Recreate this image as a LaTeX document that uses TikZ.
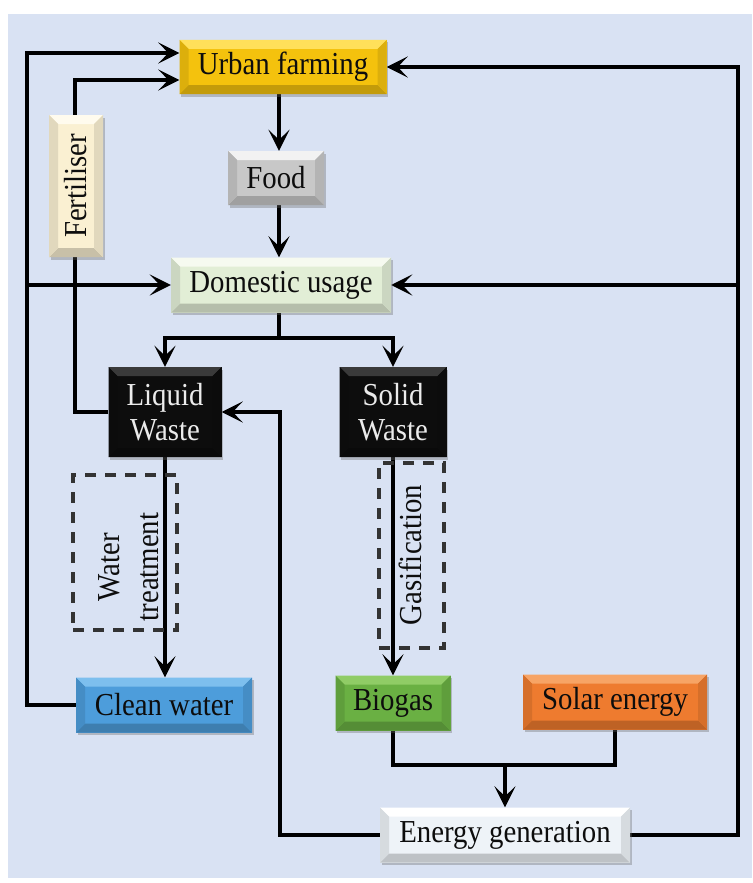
\documentclass[tikz,border=0pt]{standalone}
\usepackage{fontspec}
\usepackage{graphicx}
\setmainfont[FakeStretch=0.9]{Liberation Serif}
\usetikzlibrary{arrows.meta,shadows,calc}
\pgfdeclarelayer{back}
\pgfdeclarelayer{lines}
\pgfsetlayers{back,lines,main}
\definecolor{bgc}{HTML}{D9E2F3}
\definecolor{ufC}{HTML}{F4C20D}
\definecolor{ufT}{HTML}{FFE05A}
\definecolor{foodC}{HTML}{C8C8C8}
\definecolor{foodT}{HTML}{F2F2F2}
\definecolor{domC}{HTML}{E2EED6}
\definecolor{domT}{HTML}{F6FAF0}
\definecolor{fertC}{HTML}{FAF0D2}
\definecolor{fertT}{HTML}{FFFBEE}
\definecolor{blkC}{HTML}{0D0D0D}
\definecolor{blkT}{HTML}{3A3A3A}
\definecolor{cwC}{HTML}{4D9DDB}
\definecolor{cwT}{HTML}{7DBFEE}
\definecolor{bioC}{HTML}{6AB043}
\definecolor{bioT}{HTML}{90CC66}
\definecolor{solC}{HTML}{EE7B2F}
\definecolor{solT}{HTML}{F7A465}
\definecolor{egC}{HTML}{EEF3F8}
\definecolor{egT}{HTML}{FFFFFF}
\def\bvsz{9pt}
\tikzset{
  bev/.style 2 args={fill=#1, inner sep=0pt, text=black!95, align=center,
    font=\fontsize{32}{35}\selectfont,
    drop shadow={shadow xshift=1.5pt, shadow yshift=-2.5pt, opacity=0.35, fill=black!60},
    path picture={
      \path (path picture bounding box.north west) coordinate (bvnw)
            (path picture bounding box.north east) coordinate (bvne)
            (path picture bounding box.south west) coordinate (bvsw)
            (path picture bounding box.south east) coordinate (bvse);
      \fill[#2] (bvnw) -- (bvne) -- ($(bvne)+(-\bvsz,-\bvsz)$) -- ($(bvnw)+(\bvsz,-\bvsz)$) -- cycle;
      \fill[#1!80!black] (bvsw) -- (bvse) -- ($(bvse)+(-\bvsz,\bvsz)$) -- ($(bvsw)+(\bvsz,\bvsz)$) -- cycle;
      \fill[#1!90!black] (bvnw) -- ($(bvnw)+(\bvsz,-\bvsz)$) -- ($(bvsw)+(\bvsz,\bvsz)$) -- (bvsw) -- cycle;
      \fill[#1!90!black] (bvne) -- ($(bvne)+(-\bvsz,-\bvsz)$) -- ($(bvse)+(-\bvsz,\bvsz)$) -- (bvse) -- cycle;
    }},
  conn/.style={draw=black, line width=3.2pt},
  arr/.style={conn, -{Stealth[length=21pt,width=21pt,inset=10pt]}},
  dbox/.style={draw=black!80, line width=3.2pt, dash pattern=on 11pt off 9pt, inner sep=0pt},
  lbl/.style={font=\fontsize{32}{39}\selectfont, text=black!95, align=center}
}
\begin{document}
\begin{tikzpicture}[x=1pt,y=-1pt]
\begin{pgfonlayer}{back}
\fill[white] (0,0) rectangle (752,883);
\fill[bgc] (8,14) rectangle (752,878);
\end{pgfonlayer}
\useasboundingbox (0,0) rectangle (752,883);

\node[bev={ufC}{ufT}, minimum width=207pt, minimum height=54pt] (uf) at (283,67) {Urban farming};
\node[bev={foodC}{foodT}, minimum width=96pt, minimum height=54pt] (food) at (276,178) {Food};
\node[bev={domC}{domT}, minimum width=220pt, minimum height=55pt] (dom) at (281,285) {Domestic usage};
\node[bev={blkC}{blkT}, minimum width=113pt, minimum height=90pt, text=white!92!black] (liq) at (165,412) {Liquid\\Waste};
\node[bev={blkC}{blkT}, minimum width=107pt, minimum height=90pt, text=white!92!black] (sol) at (393,412) {Solid\\Waste};
\node[bev={cwC}{cwT}, minimum width=176pt, minimum height=55pt] (cw) at (164,705) {Clean water};
\node[bev={bioC}{bioT}, minimum width=115pt, minimum height=55pt] (bio) at (393,703) {Biogas};
\node[bev={solC}{solT}, minimum width=184pt, minimum height=55pt] (solar) at (615,702) {Solar energy};
\node[bev={egC}{egT}, minimum width=250pt, minimum height=55pt] (eg) at (505,835) {Energy generation};

\node[dbox, minimum width=104pt, minimum height=155pt] (wtbox) at (125,552.5) {};
\node[dbox, minimum width=65pt, minimum height=185pt] (gasbox) at (411.5,555.5) {};
\node[lbl, rotate=90] (wt) at (129,567) {Water\\treatment};
\node[lbl, rotate=90] (gas) at (410,555) {Gasification};

\coordinate (cx) at (279,0);
\coordinate (split) at (279,338);
\coordinate (join) at (505,765);
\coordinate (lret) at (280,412);
\coordinate (rx) at (738,0);
\coordinate (ltop) at (27,53);
\coordinate (lmid) at (27,285);
\coordinate (ftop) at (75,80);
\coordinate (rmid) at (738,285);

\begin{pgfonlayer}{lines}
\draw[arr] (uf.south -| cx) -- (food.north -| cx);
\draw[arr] (food.south -| cx) -- (dom.north -| cx);
\draw[conn] (dom.south -| split) -- (split);
\draw[arr] (split) -| (liq.north);
\draw[arr] (split) -| (sol.north);
\draw[arr] (liq.south) -- (liq.south |- cw.north);
\draw[arr] (sol.south) -- (sol.south |- bio.north);
\draw[conn] (bio.south) |- (join) -| (solar.south);
\draw[arr] (join) -- (join |- eg.north);
\draw[arr] (eg.west) -| (lret) -- (liq.east |- lret);
\draw[arr] (eg.east) -| (uf.east -| rx) -- (uf.east);
\draw[arr] (rmid) -- (dom.east |- rmid);
\draw[arr] (cw.west) -| (ltop) -- (uf.west |- ltop);
\draw[arr] (lmid) -- (dom.west |- lmid);
\draw[arr] (liq.west) -| (ftop) -- (uf.west |- ftop);
\end{pgfonlayer}

\node[bev={fertC}{fertT}, minimum width=54pt, minimum height=142pt] (fert) at (76,186) {\rotatebox{90}{Fertiliser}};
\end{tikzpicture}
\end{document}
